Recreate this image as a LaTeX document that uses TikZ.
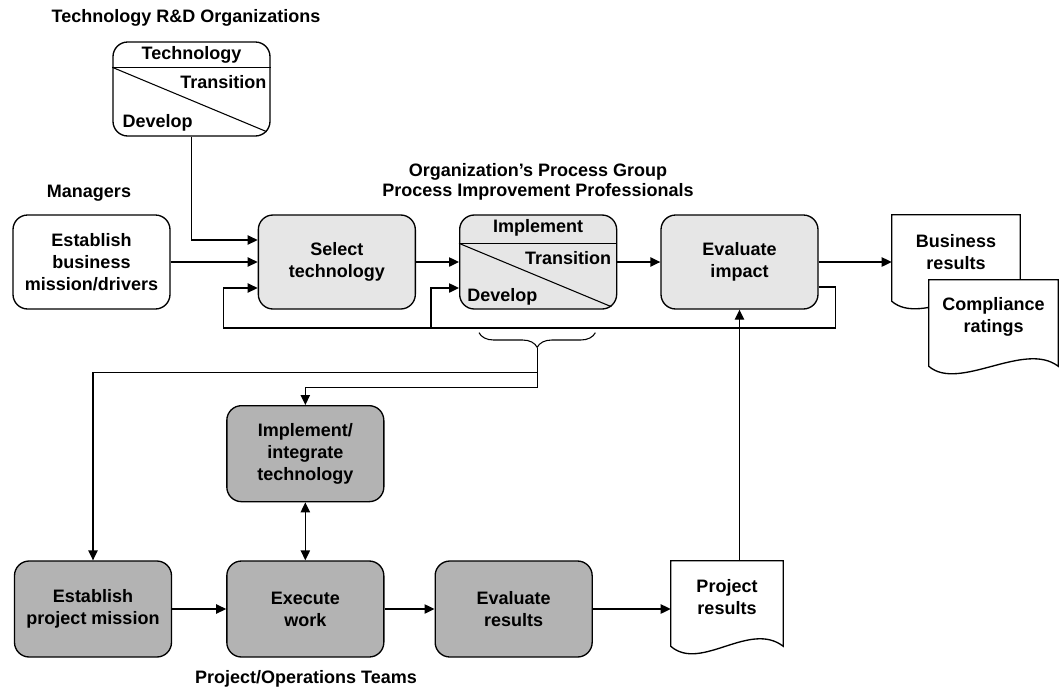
\documentclass[tikz,border=0pt]{standalone}
\usepackage{fontspec}
\setmainfont{Liberation Sans}
\usepackage{tikz}
\usetikzlibrary{positioning,calc,arrows.meta}
\usetikzlibrary{decorations.pathreplacing}

\definecolor{boxlight}{HTML}{E6E6E6}
\definecolor{boxdark}{HTML}{B3B3B3}

\tikzset{
  every node/.style={font=\fontsize{13.5}{16.5}\selectfont\bfseries},
  >={Triangle[length=7.5pt,width=7pt]},
  stepbox/.style={draw, line width=1pt, rounded corners=11pt, align=center, inner sep=0pt,
                  minimum width=117.75pt, minimum height=70.5pt},
  whitebox/.style={stepbox, fill=white},
  lightbox/.style={stepbox, fill=boxlight},
  darkbox/.style={stepbox, fill=boxdark, minimum height=72pt},
  docnode/.style={fill=white, align=center, inner sep=0pt, minimum width=#1, minimum height=55.5pt},
  conn/.style={line width=1pt, ->},
  twoway/.style={line width=1pt, <->},
  tag/.style={inner sep=0pt}
}

% document outline with wavy bottom
\newcommand{\docwave}[1]{%
  \fill[white] (#1.south west) -- (#1.south east) -- ($(#1.south east)+(0,12)$)
    .. controls ($(#1.south east)+(-34,-14)$) and ($(#1.south west)+(30,38)$) .. ($(#1.south west)+(0,12)$) -- cycle;
  \draw[line width=1pt] (#1.north west) -- (#1.north east) -- ($(#1.south east)+(0,12)$)
    .. controls ($(#1.south east)+(-34,-14)$) and ($(#1.south west)+(30,38)$) .. ($(#1.south west)+(0,12)$) -- cycle;}

\begin{document}
\begin{tikzpicture}[x=0.75pt, y=-0.75pt]
    \useasboundingbox (0,0) rectangle (1064,690);

    % group labels
    \node (rdlabel) at (186,18) {Technology R\&D Organizations};
    \node (mgrlabel) at (89,193) {Managers};
    \node[align=center, font=\fontsize{13.5}{14.5}\selectfont\bfseries] (pglabel) at (538,182)
        {Organization's Process Group\\Process Improvement Professionals};
    \node (teamlabel) at (306,679) {Project/Operations Teams};

    % Technology (R&D)
    \node[whitebox] (tech) at (191.5,89) {};
    \draw[line width=1pt] ($(tech.north west)+(0,26)$) -- ($(tech.north east)+(0,26)$);
    \draw[line width=0.8pt] ($(tech.north west)+(0,26)$) -- ($(tech.south east)+(-4,-5)$);
    \node (techtitle) at ($(tech.north)+(0,14)$) {Technology};
    \node[tag, anchor=east] (techtrans) at ($(tech.north east)+(-4,41)$) {Transition};
    \node[tag, anchor=west] (techdev) at ($(tech.south west)+(10,-14)$) {Develop};

    % top row
    \node[whitebox] (bizmission) at (91.5,262) {Establish\\business\\mission/drivers};
    \node[lightbox, right=65.25pt of bizmission] (select) {Select\\technology};
    \node[lightbox, right=32.25pt of select] (implement) {};
    \node[lightbox, right=32.25pt of implement] (evalimpact) {Evaluate\\impact};

    % Implement (split box)
    \draw[line width=1pt] ($(implement.north west)+(0,29)$) -- ($(implement.north east)+(0,29)$);
    \draw[line width=0.8pt] ($(implement.north west)+(0,29)$) -- ($(implement.south east)+(-6,-3)$);
    \node (impltitle) at ($(implement.north)+(0,14)$) {Implement};
    \node[tag, anchor=east] (impltrans) at ($(implement.north east)+(-6,44)$) {Transition};
    \node[tag, anchor=west] (impldev) at ($(implement.south west)+(8,-13)$) {Develop};

    % Business results / Compliance ratings
    \node[docnode=96pt] (bizres) at (956,252) {Business\\results};
    \docwave{bizres}
    \node[docnode=96.75pt] (compliance) at (993.5,317) {Compliance\\ratings};
    \docwave{compliance}

    % bottom row
    \node[darkbox] (projmission) at (93,609) {Establish\\project mission};
    \node[darkbox, right=40.5pt of projmission] (execute) {Execute\\work};
    \node[darkbox, right=37.5pt of execute] (evalres) {Evaluate\\results};
    \node[darkbox, above=43.5pt of execute] (integrate) {Implement/\\integrate\\technology};
    \node[docnode=84pt, minimum height=54.75pt] (projres) at (727,597.5) {Project\\results};
    \docwave{projres}

    % connectors, top row
    \draw[conn] (tech.south) |- ($(select.west)+(0,-22)$);
    \draw[conn] (bizmission) -- (select);
    \draw[conn] (select) -- (implement);
    \draw[conn] (implement) -- (evalimpact);
    \draw[conn] (evalimpact.east) -- (evalimpact.east -| bizres.west);

    % feedback loop
    \coordinate (loopR) at ($(evalimpact.east)+(17,66)$);
    \coordinate (loopL) at ($(select.west)+(-34,26)$);
    \coordinate (loopJ) at ($(implement.west)+(-28,66)$);
    \draw[conn] ($(evalimpact.east)+(0,25)$) -| (loopR) -| (loopL) -- ($(select.west)+(0,26)$);
    \draw[conn] (loopJ) |- ($(implement.west)+(0,26)$);

    % brace under Implement
    \draw[line width=0.8pt, decorate, decoration={brace, amplitude=11pt}]
        ($(implement.south east)+(-22,23)$) -- ($(implement.south west)+(20,23)$);
    \coordinate (bracetip) at ($(implement.south)+(-1,38)$);
    \draw[conn] (bracetip) -- ++(0,40) -| (integrate.north);
    \draw[conn] ($(bracetip)+(0,25)$) -| (projmission.north);

    % connectors, bottom row
    \draw[twoway] (integrate) -- (execute);
    \draw[conn] (projmission) -- (execute);
    \draw[conn] (execute) -- (evalres);
    \draw[conn] (evalres.east) -- (evalres.east -| projres.west);
    \draw[conn] (projres.north -| evalimpact.south) -- (evalimpact.south);
\end{tikzpicture}
\end{document}
